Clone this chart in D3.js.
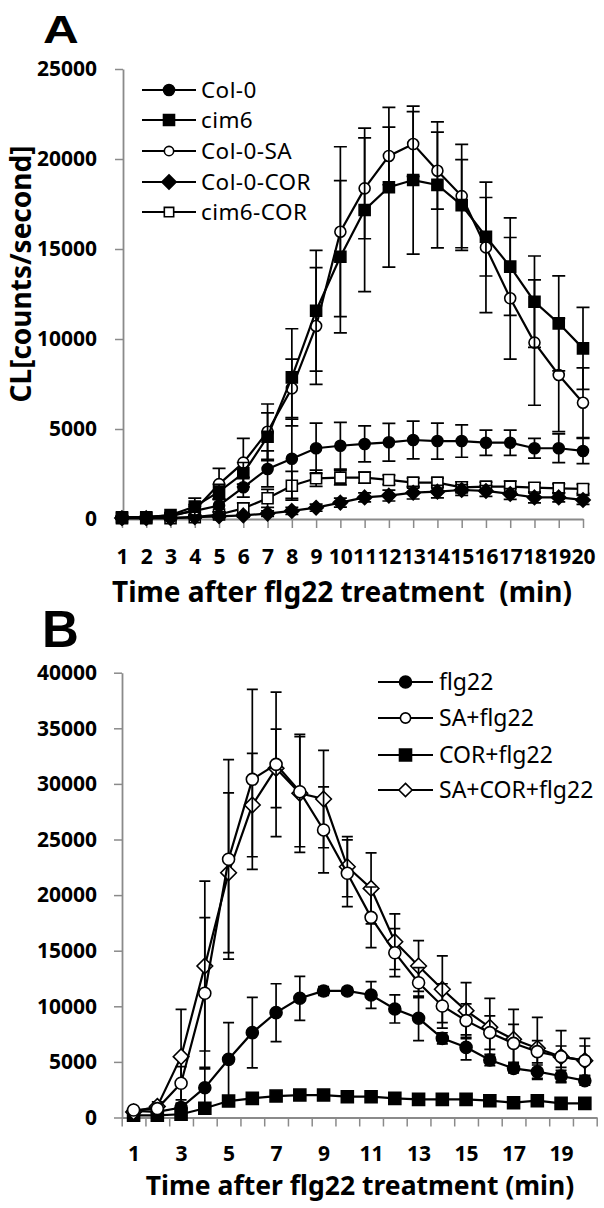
<!DOCTYPE html>
<html><head><meta charset="utf-8">
<script src="https://cdn.jsdelivr.net/npm/d3@7"></script>
<style>body{margin:0;background:#fff} svg{display:block}</style>
</head><body><svg id="c" width="604" height="1208"></svg>
<script>
// ---------- Panel A data ----------
const timesA = [1,2,3,4,5,6,7,8,9,10,11,12,13,14,15,16,17,18,19,20];
const yTicksA = [0,5000,10000,15000,20000,25000];
const col0      = [100,100,200,450,750,1760,2780,3350,3930,4070,4170,4260,4390,4330,4330,4240,4240,3930,3930,3780];
const col0Err   = [50,50,100,250,350,550,1000,2200,1400,1300,1000,1050,1050,1000,900,700,700,550,800,700];
const cim6      = [100,100,220,690,1520,2540,4570,7870,11570,14570,17170,18430,18830,18560,17440,15680,14020,12070,10870,9480];
const cim6Err   = [50,50,100,470,400,600,1330,2700,3350,4230,4540,4440,4110,3500,2520,2180,2710,2540,2640,2280];
const col0SA    = [100,100,150,500,1940,3130,4850,7260,10720,15960,18370,20170,20830,19350,17940,15090,12260,9800,8000,6460];
const col0SAErr = [50,50,100,300,870,1350,1540,1620,3240,4720,2800,1600,1800,2140,2870,3630,3380,3480,3150,1940];
const col0COR   = [50,50,50,100,150,200,300,450,630,910,1200,1300,1460,1520,1610,1560,1390,1200,1200,1060];
const col0CORErr= [30,30,30,50,80,100,150,200,200,250,250,300,350,350,300,300,300,300,250,250];
const cim6COR   = [50,50,50,100,250,590,1150,1850,2260,2300,2300,2170,2020,2020,1760,1800,1800,1740,1700,1670];
const cim6CORErr= [30,30,30,50,150,300,500,800,450,400,300,250,250,250,300,250,300,250,250,250];
const namesA = ["Col-0","cim6","Col-0-SA","Col-0-COR","cim6-COR"];

// ---------- Panel B data ----------
const timesB = [1,2,3,4,5,6,7,8,9,10,11,12,13,14,15,16,17,18,19,20];
const yTicksB = [0,5000,10000,15000,20000,25000,30000,35000,40000];
const xLabelsB = [1,3,5,7,9,11,13,15,17,19];
const flg22     = [600,500,900,2680,5230,7630,9430,10720,11380,11380,11020,9760,8920,7120,6310,5170,4420,4120,3730,3310];
const flg22Err  = [200,200,400,1830,3300,3170,2600,1980,400,300,1200,1260,2000,500,1120,500,400,600,500,400];
const saFlg     = [670,800,3080,11170,23220,30410,31760,29300,25860,21960,18000,14820,12120,10030,8710,7630,6670,5920,5470,5110];
const saFlgErr  = [200,300,1500,6800,8970,8090,6500,4950,3870,3000,2730,2160,1350,2000,1500,1500,1700,1000,960,1320];
const corFlg    = [200,200,290,830,1480,1720,1930,2020,2020,1870,1870,1720,1630,1630,1630,1510,1330,1510,1270,1270];
const corFlgErr = [100,100,150,200,200,200,200,200,200,150,150,150,150,150,150,150,150,150,150,150];
const saCorFlg  = [500,1000,5470,13620,22010,28100,31400,29150,28640,22550,20600,15810,13620,11530,9610,8110,7030,6220,5470,5110];
const saCorFlgErr=[200,400,4260,7640,7190,4650,3530,5300,4380,2700,3190,2500,2280,3000,2520,2600,2700,2790,2340,2000];
const namesB = ["flg22","SA+flg22","COR+flg22","SA+COR+flg22"];

// ---------- drawing ----------
const svg = d3.select("#c");
svg.append("rect").attr("width",604).attr("height",1208).attr("fill","#fff");
const FONT = "'Noto Sans', 'DejaVu Sans', sans-serif";
const AXC = "#8a8a8a";

function markerPath(type, s) {
  if (type === "circle") return d3.symbol(d3.symbolCircle, Math.PI*s*s)();
  if (type === "square") return `M${-s},${-s}H${s}V${s}H${-s}Z`;
  const h = s*1.3;
  return `M0,${-h}L${h},0L0,${h}L${-h},0Z`;
}

function drawSeries(g, x, y, times, vals, errs, mk, cap, ms) {
  const data = d3.zip(times, vals, errs);
  g.append("g").attr("stroke","#000").attr("stroke-width",1.7).attr("fill","none")
    .selectAll("path").data(data).join("path")
    .attr("d", ([t,v,e]) => {
      const xt = x(t), yt = y(v+e), yb = y(Math.max(0, v-e));
      return `M${xt},${yt}V${yb}M${xt-cap},${yt}h${2*cap}M${xt-cap},${yb}h${2*cap}`;
    });
  g.append("path").datum(data)
    .attr("d", d3.line().x(d=>x(d[0])).y(d=>y(d[1])))
    .attr("fill","none").attr("stroke","#000").attr("stroke-width",2.2);
  g.append("g").selectAll("path").data(data).join("path")
    .attr("transform", d=>`translate(${x(d[0])},${y(d[1])})`)
    .attr("d", markerPath(mk.type, ms))
    .attr("fill", mk.filled ? "#000" : "#fff")
    .attr("stroke","#000").attr("stroke-width",1.6);
}

function drawLegend(g, entries, x0, x1, xText, ys, ms, fs, ls) {
  entries.forEach((e,i)=>{
    const yy = ys[i];
    const s = e.filled ? ms : ms*0.85;
    g.append("line").attr("x1",x0).attr("x2",x1).attr("y1",yy).attr("y2",yy)
      .attr("stroke","#000").attr("stroke-width",2.2);
    g.append("path").attr("transform",`translate(${(x0+x1)/2},${yy})`)
      .attr("d", markerPath(e.type, s))
      .attr("fill", e.filled ? "#000" : "#fff").attr("stroke","#000").attr("stroke-width",1.6);
    g.append("text").attr("x",xText).attr("y",yy+0.36*fs).text(e.name)
      .attr("font-family",FONT).attr("font-size",fs).attr("letter-spacing",ls).attr("fill","#000");
  });
}

function styleAxis(a) {
  a.select(".domain").attr("stroke",AXC).attr("stroke-width",1.8);
  a.selectAll(".tick line").attr("stroke",AXC).attr("stroke-width",1.5);
  a.selectAll("text").attr("font-family",FONT).attr("font-weight","bold").attr("font-size",21).attr("fill","#000");
}

// ===== Panel A =====
{
  const g = svg.append("g");
  const x = d3.scaleLinear().domain([timesA[0], timesA[timesA.length-1]]).range([122, 583]);
  const y = d3.scaleLinear().domain([0, 25000]).range([519, 69]);
  const ya = g.append("g").attr("transform","translate(123,0)")
    .call(d3.axisLeft(y).tickValues(yTicksA).tickSize(8).tickSizeOuter(0).tickPadding(18).tickFormat(d=>String(d)));
  styleAxis(ya);
  const xa = g.append("g").attr("transform","translate(0,519)")
    .call(d3.axisBottom(x).tickValues(timesA).tickSize(9).tickSizeOuter(0).tickFormat(d=>String(d)));
  styleAxis(xa);
  xa.selectAll("text").attr("y",45).attr("dy",0);

  const mk = [
    {type:"circle",filled:true},{type:"square",filled:true},{type:"circle",filled:false},
    {type:"diamond",filled:true},{type:"square",filled:false}];
  const series = [[col0,col0Err],[cim6,cim6Err],[col0SA,col0SAErr],[col0COR,col0CORErr],[cim6COR,cim6CORErr]];
  [4,3,0,2,1].forEach(i => drawSeries(g, x, y, timesA, series[i][0], series[i][1], mk[i], 6.5, 5.5));

  drawLegend(g, namesA.map((n,i)=>({name:n, ...mk[i]})), 142, 196, 201, [90,120,151,182,212], 5.5, 22.5, 0.4);

  g.append("text").attr("x",43).attr("y",43).text("A")
    .attr("font-family","'Liberation Sans', Arial, sans-serif").attr("font-weight","bold")
    .attr("font-size",39).attr("transform","translate(43,0) scale(1.27,1) translate(-43,0)");
  g.append("text").attr("transform","translate(31,274) rotate(-90)").attr("text-anchor","middle")
    .text("CL[counts/second]").attr("font-family",FONT).attr("font-weight","bold").attr("font-size",28);
  g.append("text").attr("x",342).attr("y",602).attr("text-anchor","middle")
    .text("Time after flg22 treatment  (min)").attr("font-family",FONT).attr("font-weight","bold")
    .attr("font-size",28).style("white-space","pre").attr("xml:space","preserve");
}

// ===== Panel B =====
{
  const g = svg.append("g");
  const x = d3.scaleLinear().domain([timesB[0]-0.5, timesB[timesB.length-1]+0.5]).range([121.7, 596.7]);
  const y = d3.scaleLinear().domain([0, 40000]).range([1117.5, 672.7]);
  const ya = g.append("g").attr("transform","translate(122,0)")
    .call(d3.axisLeft(y).tickValues(yTicksB).tickSize(8).tickSizeOuter(0).tickPadding(17).tickFormat(d=>String(d)));
  styleAxis(ya);
  const bounds = timesB.map(t=>t-0.5).concat([timesB[timesB.length-1]+0.5]);
  const xt = g.append("g").attr("transform","translate(0,1117.5)")
    .call(d3.axisBottom(x).tickValues(bounds).tickSize(9).tickSizeOuter(0).tickFormat(""));
  styleAxis(xt);
  const xl = g.append("g").attr("transform","translate(0,1117.5)")
    .call(d3.axisBottom(x).tickValues(xLabelsB).tickSize(0).tickFormat(d=>String(d)));
  styleAxis(xl);
  xl.select(".domain").remove();
  xl.selectAll("text").attr("y",43).attr("dy",0);

  const mk = [{type:"circle",filled:true},{type:"circle",filled:false},{type:"square",filled:true},{type:"diamond",filled:false}];
  const series = [[flg22,flg22Err],[saFlg,saFlgErr],[corFlg,corFlgErr],[saCorFlg,saCorFlgErr]];
  [2,0,3,1].forEach(i => drawSeries(g, x, y, timesB, series[i][0], series[i][1], mk[i], 5.5, 6));

  drawLegend(g, namesB.map((n,i)=>({name:n, ...mk[i]})), 378, 433, 439, [682,718,755,790], 6, 23, 0);

  g.append("text").attr("x",42).attr("y",647).text("B")
    .attr("font-family","'Liberation Sans', Arial, sans-serif").attr("font-weight","bold").attr("font-size",51);
  g.append("text").attr("x",360).attr("y",1195).attr("text-anchor","middle")
    .text("Time after flg22 treatment (min)").attr("font-family",FONT).attr("font-weight","bold").attr("font-size",26.5);
}
</script></body></html>
